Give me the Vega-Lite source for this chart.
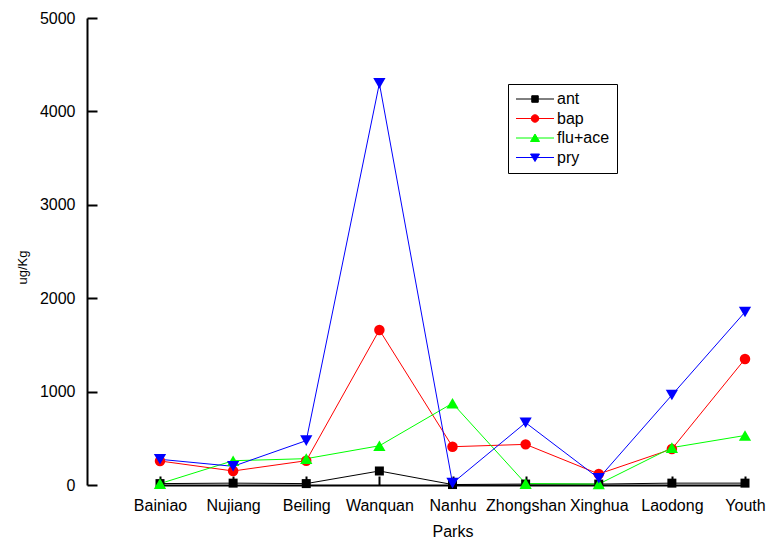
{
  "$schema": "https://vega.github.io/schema/vega-lite/v6.json",
  "width": 666,
  "height": 467,
  "autosize": {"type": "none"},
  "padding": {"left": 87, "top": 18, "right": 13, "bottom": 54},
  "background": "white",
  "config": {
    "view": {"stroke": null},
    "font": "Liberation Sans",
    "axis": {"grid": false, "labelColor": "black", "titleColor": "black", "domainColor": "black", "tickColor": "black", "domainWidth": 2, "tickWidth": 2, "titleFontWeight": "normal"}
  },
  "data": {
    "values": [
      {"park": "Bainiao", "series": "ant", "value": 15},
      {"park": "Nujiang", "series": "ant", "value": 20},
      {"park": "Beiling", "series": "ant", "value": 15},
      {"park": "Wanquan", "series": "ant", "value": 150},
      {"park": "Nanhu", "series": "ant", "value": 5},
      {"park": "Zhongshan", "series": "ant", "value": 10},
      {"park": "Xinghua", "series": "ant", "value": 10},
      {"park": "Laodong", "series": "ant", "value": 20},
      {"park": "Youth", "series": "ant", "value": 20},
      {"park": "Bainiao", "series": "bap", "value": 257},
      {"park": "Nujiang", "series": "bap", "value": 150},
      {"park": "Beiling", "series": "bap", "value": 260},
      {"park": "Wanquan", "series": "bap", "value": 1660},
      {"park": "Nanhu", "series": "bap", "value": 410},
      {"park": "Zhongshan", "series": "bap", "value": 435},
      {"park": "Xinghua", "series": "bap", "value": 118},
      {"park": "Laodong", "series": "bap", "value": 385},
      {"park": "Youth", "series": "bap", "value": 1349},
      {"park": "Bainiao", "series": "flu+ace", "value": 15},
      {"park": "Nujiang", "series": "flu+ace", "value": 260},
      {"park": "Beiling", "series": "flu+ace", "value": 282},
      {"park": "Wanquan", "series": "flu+ace", "value": 420},
      {"park": "Nanhu", "series": "flu+ace", "value": 875},
      {"park": "Zhongshan", "series": "flu+ace", "value": 15},
      {"park": "Xinghua", "series": "flu+ace", "value": 10},
      {"park": "Laodong", "series": "flu+ace", "value": 400},
      {"park": "Youth", "series": "flu+ace", "value": 530},
      {"park": "Bainiao", "series": "pry", "value": 275},
      {"park": "Nujiang", "series": "pry", "value": 200},
      {"park": "Beiling", "series": "pry", "value": 475},
      {"park": "Wanquan", "series": "pry", "value": 4300},
      {"park": "Nanhu", "series": "pry", "value": 20},
      {"park": "Zhongshan", "series": "pry", "value": 667},
      {"park": "Xinghua", "series": "pry", "value": 72},
      {"park": "Laodong", "series": "pry", "value": 963},
      {"park": "Youth", "series": "pry", "value": 1852}
    ]
  },
  "encoding": {
    "x": {
      "field": "park", "type": "ordinal",
      "sort": ["Bainiao", "Nujiang", "Beiling", "Wanquan", "Nanhu", "Zhongshan", "Xinghua", "Laodong", "Youth"],
      "scale": {"type": "point", "range": [73, 658], "padding": 0},
      "axis": {"title": "Parks", "titleFontSize": 16, "labelFontSize": 16, "labelAngle": 0, "tickSize": -9, "labelPadding": 21, "labelOverlap": false, "labelFlush": false, "titlePadding": 10}
    },
    "y": {
      "field": "value", "type": "quantitative",
      "scale": {"domain": [0, 5000], "nice": false},
      "axis": {"title": "ug/Kg", "titleFontSize": 13, "labelFontSize": 16, "tickSize": -10, "labelPadding": 22, "values": [0, 1000, 2000, 3000, 4000, 5000], "format": "d", "titlePadding": 10, "titleY": 249}
    },
    "color": {
      "field": "series", "type": "nominal",
      "scale": {"domain": ["ant", "bap", "flu+ace", "pry"], "range": ["#000000", "#ff0000", "#00ff00", "#0000ff"]},
      "legend": {
        "title": null, "orient": "none", "legendX": 421, "legendY": 66,
        "strokeColor": "black", "fillColor": "white", "padding": 7,
        "symbolSize": 100, "symbolOffset": 12, "labelOffset": 14,
        "labelFontSize": 16, "labelColor": "black", "rowPadding": 3.5,
        "symbolOpacity": 1, "symbolStrokeWidth": 1,
        "encode": {"symbols": {"update": {
          "shape": {"signal": "datum.value === 'ant' ? 'M-3.8,0H3.8M-0.65,-0.65H0.65V0.65H-0.65Z' : datum.value === 'bap' ? 'M-3.8,0H3.8M-0.75,0A0.75,0.75 0 1,0 0.75,0A0.75,0.75 0 1,0 -0.75,0Z' : datum.value === 'flu+ace' ? 'M-3.8,0H3.8M0,-0.8L0.9,0.7H-0.9Z' : 'M-3.8,0H3.8M0,0.8L0.9,-0.7H-0.9Z'"},
          "fill": {"scale": "color", "field": "value"},
          "stroke": {"scale": "color", "field": "value"},
          "opacity": {"value": 1},
          "strokeWidth": {"value": 1}
        }}}
      }
    }
  },
  "layer": [
    {"mark": {"type": "line", "strokeWidth": 1}},
    {"transform": [{"filter": "datum.series === 'ant'"}], "mark": {"type": "point", "filled": true, "opacity": 1, "shape": "square", "size": 81}},
    {"transform": [{"filter": "datum.series === 'bap'"}], "mark": {"type": "point", "filled": true, "opacity": 1, "shape": "circle", "size": 110}},
    {"transform": [{"filter": "datum.series === 'flu+ace'"}], "mark": {"type": "point", "filled": true, "opacity": 1, "shape": "triangle-up", "size": 150}},
    {"transform": [{"filter": "datum.series === 'pry'"}], "mark": {"type": "point", "filled": true, "opacity": 1, "shape": "triangle-down", "size": 150}}
  ]
}
